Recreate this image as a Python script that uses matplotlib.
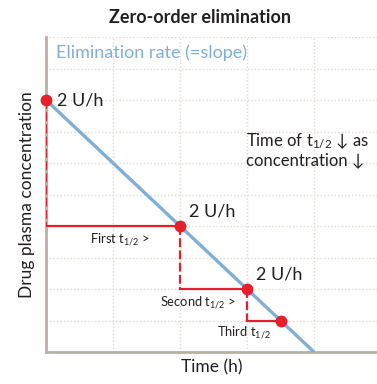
import numpy as np
import matplotlib
matplotlib.use("Agg")
import matplotlib.pyplot as plt

plt.rcParams['font.family'] = ['Lato', 'DejaVu Sans']
plt.rcParams['mathtext.default'] = 'regular'

# concentration line (constant rate, 2 units per hour)
line_t = [0, 4]
line_c = [8, 0]

# successive half-lives
half_t = [0, 2, 3, 3.5]
half_c = [8, 4, 2, 1]

rate_labels = ['2 U/h', '2 U/h', '2 U/h']
step_labels = [r'First t$_{1/2}$ >', r'Second t$_{1/2}$ >', r'Third t$_{1/2}$']

RED = '#e61f2b'
BLUE = '#7eafd8'
SPINE = '#b9b09e'
GRID = '#e2d9cc'
TXT = '#231f20'

fig = plt.figure(figsize=(3.77, 3.84), dpi=100)
ax = fig.add_axes([0.122, 0.0833, 0.878, 0.8203])

ax.set_xlim(0, 4.94)
ax.set_ylim(0, 10)
ax.set_xticks(np.arange(0, 5, 1))
ax.set_yticks(np.arange(0, 11, 1))
ax.tick_params(length=0, labelbottom=False, labelleft=False)
ax.grid(True, color=GRID, linestyle=(0, (1, 1.5)), linewidth=1.0)
for s in ['top', 'right']:
    ax.spines[s].set_visible(False)
for s in ['left', 'bottom']:
    ax.spines[s].set_color(SPINE)
    ax.spines[s].set_linewidth(2)

ax.plot(line_t, line_c, color=BLUE, lw=2.4, solid_capstyle='butt', zorder=3)

# stepped half-life construction: dashed drop, solid run
for i in range(len(half_t) - 1):
    t0, c0 = half_t[i], half_c[i]
    t1, c1 = half_t[i + 1], half_c[i + 1]
    ax.plot([t0, t0], [c0, c1], color=RED, lw=1.6, ls=(0, (4, 1.5)), zorder=4)
    ax.plot([t0, t1], [c1, c1], color=RED, lw=1.6, zorder=4)
ax.plot(half_t, half_c, 'o', color=RED, ms=7.5, zorder=5, clip_on=False)

rate_pos = [(0.17, 8.0), (2.13, 4.45), (3.13, 2.45)]
for (x, y), lab in zip(rate_pos, rate_labels):
    ax.text(x, y, lab, fontsize=13, color=TXT, ha='left', va='center')

step_pos = [(1.1, 3.55), (2.27, 1.55), (2.95, 0.6)]
for (x, y), lab in zip(step_pos, step_labels):
    ax.text(x, y, lab, fontsize=9.3, color=TXT, ha='center', va='center')

ax.text(0.15, 9.5, 'Elimination rate (=slope)', fontsize=13, color=BLUE,
        ha='left', va='center')
ax.text(2.99, 7.0, 'Time of t$_{1/2}$ \u2193 as\nconcentration \u2193', fontsize=12,
        color=TXT, ha='left', va='top', linespacing=1.1)

ax.set_xlabel('Time (h)', fontsize=12.5, color=TXT, labelpad=5)
ax.set_ylabel('Drug plasma concentration', fontsize=12.5, color=TXT, labelpad=8)
fig.text(0.53, 0.955, 'Zero-order elimination', fontsize=13, fontweight='bold',
         color=TXT, ha='center', va='center')

fig.savefig('out.png', dpi=100, facecolor='white')
